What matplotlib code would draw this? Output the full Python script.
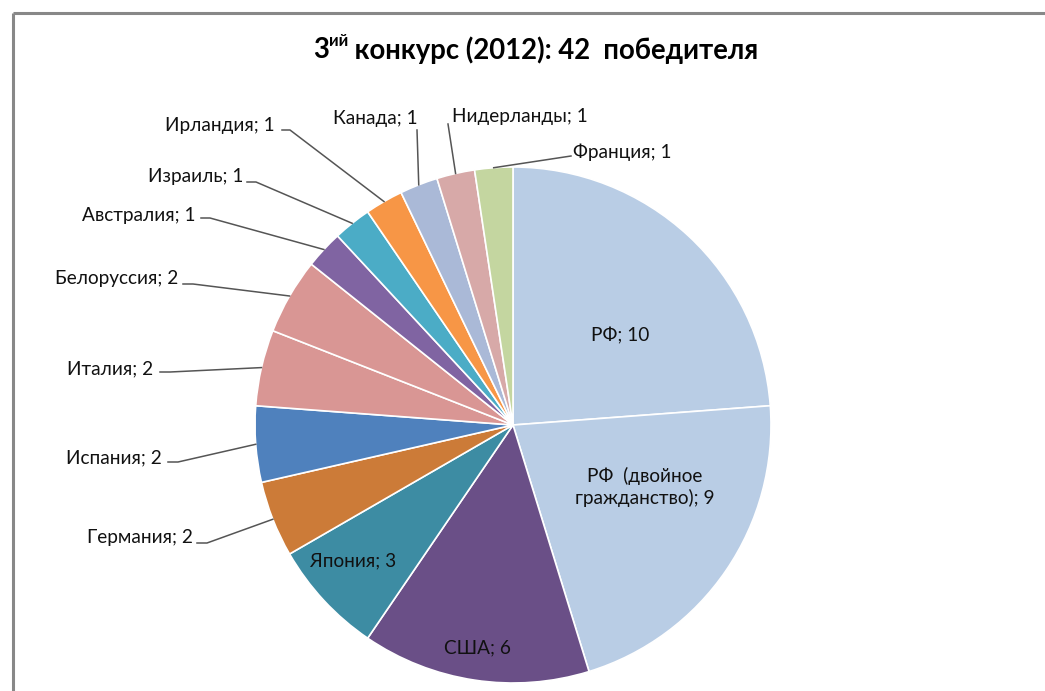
import numpy as np
import matplotlib
matplotlib.use("Agg")
import matplotlib.pyplot as plt

# ---- data ----
countries = ["РФ", "РФ  (двойное\nгражданство)", "США", "Япония", "Германия", "Испания",
             "Италия", "Белоруссия", "Австралия", "Израиль", "Ирландия", "Канада",
             "Нидерланды", "Франция"]
winners = [10, 9, 6, 3, 2, 2, 2, 2, 1, 1, 1, 1, 1, 1]
colors = ["#B9CDE5", "#B9CDE5", "#6A4F87", "#3D8CA3", "#CC7B38", "#4F81BD",
          "#D99694", "#D99694", "#8064A2", "#4BACC6", "#F79646", "#AAB9D7",
          "#D7A9A8", "#C4D6A0"]
title_main = "3"
title_sup = "ий"
title_rest = " конкурс (2012): 42  победителя"

W, H = 1045, 691
FONT = "Lato"
plt.rcParams['font.family'] = [FONT, 'DejaVu Sans']

fig = plt.figure(figsize=(W / 100, H / 100), dpi=100)
ax = fig.add_axes([0, 0, 1, 1])

def Y(y):
    return H - y

cx, cy, R = 513, Y(425), 258
wedges, _ = ax.pie(winners, colors=colors, startangle=90, counterclock=False,
                   center=(cx, cy), radius=R,
                   wedgeprops=dict(edgecolor="white", linewidth=1.2))
ax.set_xlim(0, W)
ax.set_ylim(0, H)
ax.set_aspect("equal")
ax.axis("off")

# frame (top and left visible)
ax.plot([13, W], [Y(13), Y(13)], color="#888888", lw=2.2, solid_capstyle="butt")
ax.plot([13, 13], [Y(13), 0], color="#888888", lw=2.2, solid_capstyle="butt")

fs = 13.7
lab = lambda i: f"{countries[i]}; {winners[i]}"

def edge_point(i):
    w = wedges[i]
    a = np.deg2rad((w.theta1 + w.theta2) / 2)
    return cx + R * np.cos(a), cy + R * np.sin(a)

# inside labels
inside = {0: (620, 336), 1: (645, 487), 2: (478, 648), 3: (353, 561)}
for i, (x, y) in inside.items():
    ax.text(x, Y(y), lab(i), ha="center", va="center", fontsize=fs,
            color="#111111", linespacing=1.2)

# outside labels: (text x, text y, ha, leader elbow points)
outside = {
    13: (573, 152, "left", [(571, 156)]),
    12: (452, 116, "left", [(448, 124)]),
    11: (418, 118, "right", [(417, 130)]),
    10: (275, 125, "right", [(290, 130), (282, 130)]),
    9: (243, 176, "right", [(256, 182), (247, 182)]),
    8: (196, 215, "right", [(210, 218), (201, 218)]),
    7: (178, 278, "right", [(193, 284), (183, 284)]),
    6: (153, 369, "right", [(170, 372), (160, 372)]),
    5: (162, 458, "right", [(178, 462), (168, 462)]),
    4: (193, 538, "right", [(207, 543), (197, 543)]),
}
for i, (x, y, ha, pts) in outside.items():
    ax.text(x, Y(y), lab(i), ha=ha, va="center", fontsize=fs, color="#111111")
    ex, ey = edge_point(i)
    xs = [ex] + [p[0] for p in pts]
    ys = [ey] + [Y(p[1]) for p in pts]
    ax.plot(xs, ys, color="#555555", lw=1.1)

# title with superscript
fig.canvas.draw()
r = fig.canvas.get_renderer()
tfs = 19.8
ty = Y(50)
t1 = ax.text(0, ty, title_main, fontsize=tfs, fontweight="bold", va="center", ha="left")
t2 = ax.text(0, ty + 9, title_sup, fontsize=tfs * 0.6, fontweight="bold", va="center", ha="left")
t3 = ax.text(0, ty, title_rest, fontsize=tfs, fontweight="bold", va="center", ha="left")
w1 = t1.get_window_extent(r).width
w2 = t2.get_window_extent(r).width
w3 = t3.get_window_extent(r).width
total = w1 + w2 + w3
x0 = 536 - total / 2
t1.set_x(x0)
t2.set_x(x0 + w1)
t3.set_x(x0 + w1 + w2)

fig.savefig("out.png", dpi=100, facecolor="white")
